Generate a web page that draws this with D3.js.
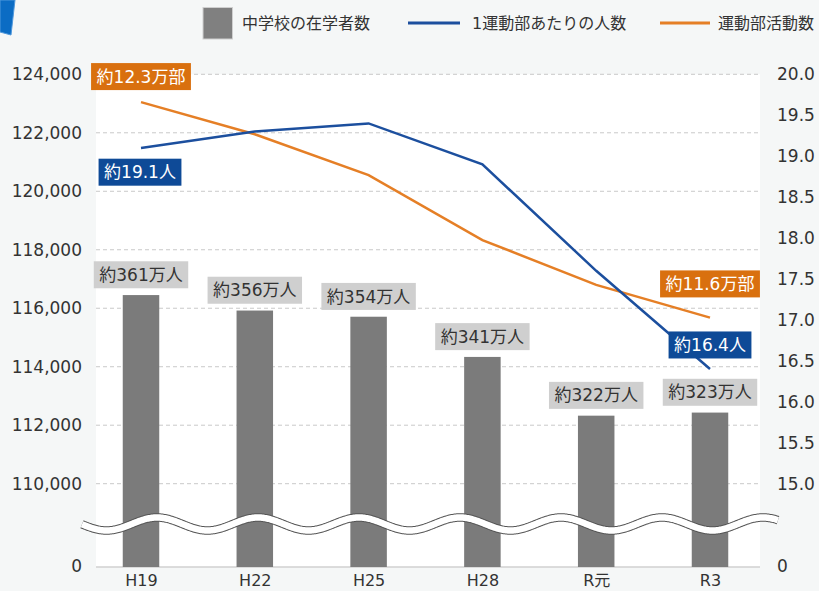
<!DOCTYPE html>
<html>
<head>
    <meta charset="utf-8">
    <title>運動部活動数の推移</title>
    <script src="https://cdn.jsdelivr.net/npm/d3@7"></script>
    <style>
        html,
        body {
            margin: 0;
            padding: 0;
            background: #f5f7f7;
        }

        svg.main {
            display: block;
            width: 819px;
            height: 591px;
        }

        text {
            font-family: "DejaVu Sans", "Noto Sans CJK JP", sans-serif;
        }
    </style>
</head>

<body>
    <svg class="main"></svg>
</body>

<script>
    // データ
    var categories = ["H19", "H22", "H25", "H28", "R元", "R3"];
    var students = [361, 356, 354, 341, 322, 323];            // 中学校の在学者数（万人）
    var clubs = [123050, 121950, 120550, 118330, 116800, 115680]; // 運動部活動数
    var perClub = [19.1, 19.3, 19.4, 18.9, 17.6, 16.4];        // 1運動部あたりの人数
    var leftTicks = [110000, 112000, 114000, 116000, 118000, 120000, 122000, 124000];
    var rightTicks = [15.0, 15.5, 16.0, 16.5, 17.0, 17.5, 18.0, 18.5, 19.0, 19.5, 20.0];
    var legendNames = ["中学校の在学者数", "1運動部あたりの人数", "運動部活動数"];

    var W = 819, H = 591;
    var plot = { left: 96, right: 760, top: 74.3, bottom: 483.7, base: 567 };

    var colors = {
        bar: "#7b7b7b",
        barLabel: "#cfcfcf",
        blue: "#1c4f9e",
        blueBox: "#0e4a97",
        orange: "#e57f26",
        orangeBox: "#d9700f",
        grid: "#c9c9c9",
        text: "#333"
    };

    var svg = d3.select("svg").attr("width", W).attr("height", H);

    // 左上の飾り
    svg.append("path")
        .attr("d", "M0,0 L15,0 L11,35 L0,32 Z")
        .attr("fill", "#0b6cc4")
        .attr("stroke", "#4f98dc")
        .attr("stroke-width", 1);

    // プロットエリア
    svg.append("rect")
        .attr("x", plot.left).attr("y", plot.top)
        .attr("width", plot.right - plot.left)
        .attr("height", plot.base - plot.top)
        .attr("fill", "#fff");

    // スケール
    var x = d3.scalePoint().domain(categories).range([141, 710]);
    var yL = d3.scaleLinear().domain([110000, 124000]).range([plot.bottom, plot.top]);
    var yR = d3.scaleLinear().domain([15, 20]).range([plot.bottom, plot.top]);
    // 棒グラフは非表示の第3軸（万人）
    var yBar = d3.scaleLinear().domain([300, 432.4]).range([plot.bottom, plot.top]);

    // グリッド線
    svg.append("g").selectAll("line")
        .data(leftTicks)
        .enter()
        .append("line")
        .attr("x1", plot.left).attr("x2", plot.right)
        .attr("y1", function (d) { return yL(d); })
        .attr("y2", function (d) { return yL(d); })
        .attr("stroke", colors.grid)
        .attr("stroke-width", 1)
        .attr("stroke-dasharray", "4,3");

    svg.append("line")
        .attr("x1", plot.left).attr("x2", plot.right)
        .attr("y1", plot.base).attr("y2", plot.base)
        .attr("stroke", "#d0d0d0")
        .attr("stroke-width", 1.5);

    // 軸
    var axisL = svg.append("g")
        .attr("transform", "translate(" + plot.left + ",0)")
        .call(d3.axisLeft(yL).tickValues(leftTicks).tickFormat(d3.format(",")).tickSize(0).tickPadding(14));
    var axisR = svg.append("g")
        .attr("transform", "translate(" + plot.right + ",0)")
        .call(d3.axisRight(yR).tickValues(rightTicks).tickFormat(d3.format(".1f")).tickSize(0).tickPadding(17));
    var axisB = svg.append("g")
        .attr("transform", "translate(0," + plot.base + ")")
        .call(d3.axisBottom(x).tickSize(0).tickPadding(8));

    [axisL, axisR, axisB].forEach(function (g) {
        g.select(".domain").remove();
        g.selectAll("text")
            .style("font-family", '"DejaVu Sans", "Noto Sans CJK JP", sans-serif')
            .style("font-size", "17px")
            .attr("fill", colors.text);
    });
    axisB.selectAll("text").style("font-size", "16px");

    // 0 の目盛
    svg.append("text").attr("x", plot.left - 14).attr("y", plot.base).attr("dy", "0.32em")
        .attr("text-anchor", "end").attr("font-size", 17).attr("fill", colors.text).text("0");
    svg.append("text").attr("x", plot.right + 17).attr("y", plot.base).attr("dy", "0.32em")
        .attr("text-anchor", "start").attr("font-size", 17).attr("fill", colors.text).text("0");

    // 棒
    var barW = 36.5;
    svg.append("g").selectAll("rect")
        .data(students)
        .enter()
        .append("rect")
        .attr("x", function (d, i) { return x(categories[i]) - barW / 2; })
        .attr("y", function (d) { return yBar(d); })
        .attr("width", barW)
        .attr("height", function (d) { return plot.base - yBar(d); })
        .attr("fill", colors.bar);

    // 省略の波線
    var wave = d3.range(82, 778.5, 1).map(function (px) {
        return [px, 524 - 6.5 * Math.cos(2 * Math.PI * (px - 157) / 101)];
    });
    var waveLine = d3.line();
    svg.append("path").attr("d", waveLine(wave))
        .attr("fill", "none").attr("stroke", "#555").attr("stroke-width", 8.5);
    svg.append("path").attr("d", waveLine(wave))
        .attr("fill", "none").attr("stroke", "#fff").attr("stroke-width", 6.5);

    // 折れ線
    var lineL = d3.line()
        .x(function (d, i) { return x(categories[i]); })
        .y(function (d) { return yL(d); });
    var lineR = d3.line()
        .x(function (d, i) { return x(categories[i]); })
        .y(function (d) { return yR(d); });

    svg.append("path").datum(clubs)
        .attr("d", lineL)
        .attr("fill", "none")
        .attr("stroke", colors.orange)
        .attr("stroke-width", 2.5);

    svg.append("path").datum(perClub)
        .attr("d", lineR)
        .attr("fill", "none")
        .attr("stroke", colors.blue)
        .attr("stroke-width", 2.5);

    // ラベル
    function labelBox(cx, cy, str, fill, color) {
        var g = svg.append("g");
        var t = g.append("text")
            .attr("x", cx).attr("y", cy).attr("dy", "0.36em")
            .attr("text-anchor", "middle")
            .attr("font-size", 17)
            .attr("fill", color)
            .text(str);
        var w = t.node().getComputedTextLength() + 11;
        g.insert("rect", "text")
            .attr("x", cx - w / 2).attr("y", cy - 13.5)
            .attr("width", w).attr("height", 27)
            .attr("fill", fill);
    }

    students.forEach(function (d, i) {
        labelBox(x(categories[i]), yBar(d) - 7 - 13.3, "約" + d + "万人", colors.barLabel, colors.text);
    });

    var last = categories.length - 1;
    labelBox(x(categories[0]), yL(clubs[0]) - 25.5,
        "約" + d3.format(".1f")(clubs[0] / 10000) + "万部", colors.orangeBox, "#fff");
    labelBox(x(categories[last]), yL(clubs[last]) - 33.7,
        "約" + d3.format(".1f")(clubs[last] / 10000) + "万部", colors.orangeBox, "#fff");
    labelBox(x(categories[0]) - 1, yR(perClub[0]) + 24.2,
        "約" + d3.format(".1f")(perClub[0]) + "人", colors.blueBox, "#fff");
    labelBox(x(categories[last]), yR(perClub[last]) - 24.1,
        "約" + d3.format(".1f")(perClub[last]) + "人", colors.blueBox, "#fff");

    // 凡例
    var legend = svg.append("g");
    legend.append("rect")
        .attr("x", 203).attr("y", 7.5).attr("width", 29.5).attr("height", 31.5)
        .attr("fill", "#808080").attr("stroke", "#cfcfcf").attr("stroke-width", 1);
    legend.append("line")
        .attr("x1", 408).attr("x2", 460).attr("y1", 23).attr("y2", 23)
        .attr("stroke", colors.blue).attr("stroke-width", 3);
    legend.append("line")
        .attr("x1", 660).attr("x2", 710).attr("y1", 23).attr("y2", 23)
        .attr("stroke", colors.orange).attr("stroke-width", 3);
    var legendX = [242, 472, 718];
    legendNames.forEach(function (name, i) {
        legend.append("text")
            .attr("x", legendX[i]).attr("y", 23).attr("dy", "0.36em")
            .attr("font-size", 16)
            .attr("fill", colors.text)
            .text(name);
    });
</script>

</html>
